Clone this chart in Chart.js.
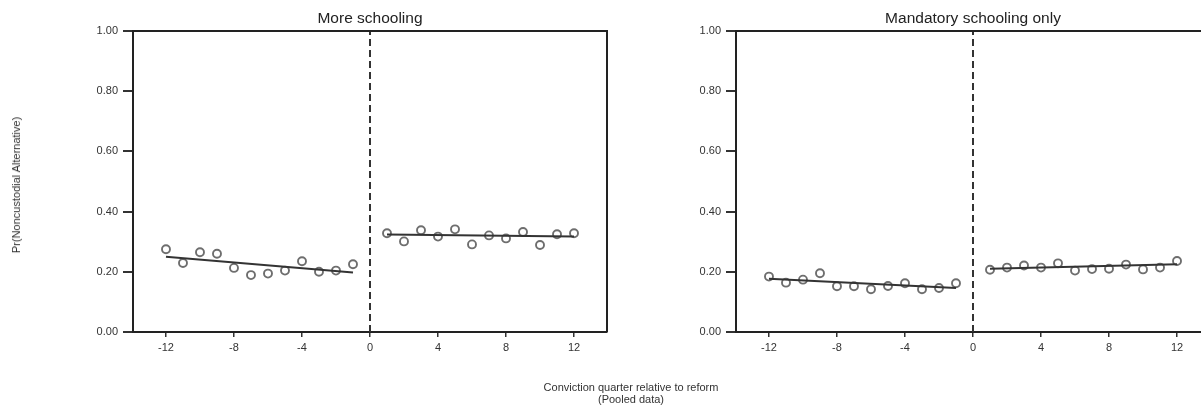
<!DOCTYPE html>
<html>
<head>
<meta charset="utf-8">
<script src="https://cdn.jsdelivr.net/npm/chart.js@4.4.1/dist/chart.umd.min.js"></script>
<style>
html,body{margin:0;padding:0;background:#fff;overflow:hidden;width:1201px;height:408px;}
#wrap{position:relative;width:1201px;height:408px;font-family:"Liberation Sans",Arial,sans-serif;color:#333;}
canvas{position:absolute;top:0;}
#c1{left:0;}
#c2{left:615px;}
.ytitle{position:absolute;left:16px;top:185px;transform:translate(-50%,-50%) rotate(-90deg);font-size:11px;white-space:nowrap;}
.xtitle{position:absolute;left:631px;top:381px;transform:translateX(-50%);font-size:11px;text-align:center;line-height:12px;white-space:nowrap;}
</style>
</head>
<body>
<div id="wrap">
  <canvas id="c1" width="615" height="408"></canvas>
  <canvas id="c2" width="610" height="408"></canvas>
  <div class="ytitle">Pr(Noncustodial Alternative)</div>
  <div class="xtitle">Conviction quarter relative to reform<br>(Pooled data)</div>
</div>
<script>
// quarters relative to the reform
const preQuarters = [-12, -11, -10, -9, -8, -7, -6, -5, -4, -3, -2, -1];
const postQuarters = [1, 2, 3, 4, 5, 6, 7, 8, 9, 10, 11, 12];
const xTicks = [-12, -8, -4, 0, 4, 8, 12];
const yTicks = [0, 0.2, 0.4, 0.6, 0.8, 1.0];

// More schooling
const moreSchoolingPre = [0.275, 0.229, 0.265, 0.260, 0.213, 0.189, 0.194, 0.204, 0.235, 0.200, 0.204, 0.225];
const moreSchoolingPost = [0.328, 0.301, 0.338, 0.317, 0.341, 0.291, 0.321, 0.311, 0.332, 0.289, 0.325, 0.328];

// Mandatory schooling only
const mandatoryPre = [0.184, 0.164, 0.174, 0.195, 0.152, 0.152, 0.142, 0.153, 0.162, 0.142, 0.146, 0.162];
const mandatoryPost = [0.207, 0.214, 0.221, 0.214, 0.228, 0.204, 0.209, 0.210, 0.224, 0.208, 0.214, 0.236];

// fitted lines (end points)
const preFitX = [-12, -1];
const postFitX = [1, 12];
const moreFitPre = [0.250, 0.198];
const moreFitPost = [0.324, 0.317];
const mandFitPre = [0.177, 0.146];
const mandFitPost = [0.210, 0.225];

const cutoffLine = [0, 1];

Chart.defaults.font.family = '"Liberation Sans", Arial, sans-serif';
Chart.defaults.color = '#333';

const toPts = (xs, ys) => xs.map((x, i) => ({x: x, y: ys[i]}));

// draws top and right edges of the plot box
const boxPlugin = {
  id: 'box',
  afterDraw(chart) {
    const a = chart.chartArea, c = chart.ctx;
    c.save();
    c.strokeStyle = '#222';
    c.lineWidth = 2;
    c.beginPath();
    c.moveTo(a.left, a.top);
    c.lineTo(a.right, a.top);
    c.lineTo(a.right, a.bottom);
    c.stroke();
    c.restore();
  }
};

function makePanel(id, title, pre, post, fitPre, fitPost, yWidth, padRight) {
  const dots = {
    type: 'scatter', showLine: false, pointStyle: 'circle', pointRadius: 4,
    pointBorderWidth: 1.9, pointBorderColor: '#6e6e6e', pointBackgroundColor: 'rgba(0,0,0,0)'
  };
  const fit = {type: 'scatter', showLine: true, borderColor: '#333', borderWidth: 2, pointRadius: 0};
  new Chart(document.getElementById(id), {
    type: 'scatter',
    data: {
      datasets: [
        Object.assign({data: toPts([0, 0], cutoffLine), borderDash: [7, 4]}, fit),
        Object.assign({data: toPts(preFitX, fitPre)}, fit),
        Object.assign({data: toPts(postFitX, fitPost)}, fit),
        Object.assign({data: toPts(preQuarters, pre)}, dots),
        Object.assign({data: toPts(postQuarters, post)}, dots)
      ]
    },
    options: {
      responsive: false,
      animation: false,
      layout: {padding: {top: 0, left: 0, right: padRight, bottom: 0}},
      plugins: {
        legend: {display: false},
        tooltip: {enabled: false},
        title: {
          display: true, text: title, fullSize: false, color: '#222',
          font: {size: 15.5, weight: 'normal'}, padding: {top: 9, bottom: 3.4}
        }
      },
      scales: {
        x: {
          type: 'linear', min: -13.94, max: 13.94,
          afterBuildTicks: s => { s.ticks = xTicks.map(v => ({value: v})); },
          afterFit: s => { s.height = 76; },
          grid: {drawOnChartArea: false, drawTicks: true, tickLength: 5, color: '#333', lineWidth: 1.5},
          border: {display: true, color: '#222', width: 2},
          ticks: {padding: 4, font: {size: 11}, color: '#333', maxRotation: 0}
        },
        y: {
          min: 0, max: 1,
          afterBuildTicks: s => { s.ticks = yTicks.map(v => ({value: v})); },
          afterFit: s => { s.width = yWidth; },
          grid: {drawOnChartArea: false, drawTicks: true, tickLength: 10, color: '#333', lineWidth: 2},
          border: {display: true, color: '#222', width: 2},
          ticks: {padding: 5, font: {size: 11}, color: '#333', callback: v => v.toFixed(2)}
        }
      }
    },
    plugins: [boxPlugin]
  });
}

makePanel('c1', 'More schooling', moreSchoolingPre, moreSchoolingPost, moreFitPre, moreFitPost, 133, 8);
makePanel('c2', 'Mandatory schooling only', mandatoryPre, mandatoryPost, mandFitPre, mandFitPost, 121, 15);
</script>
</body>
</html>
